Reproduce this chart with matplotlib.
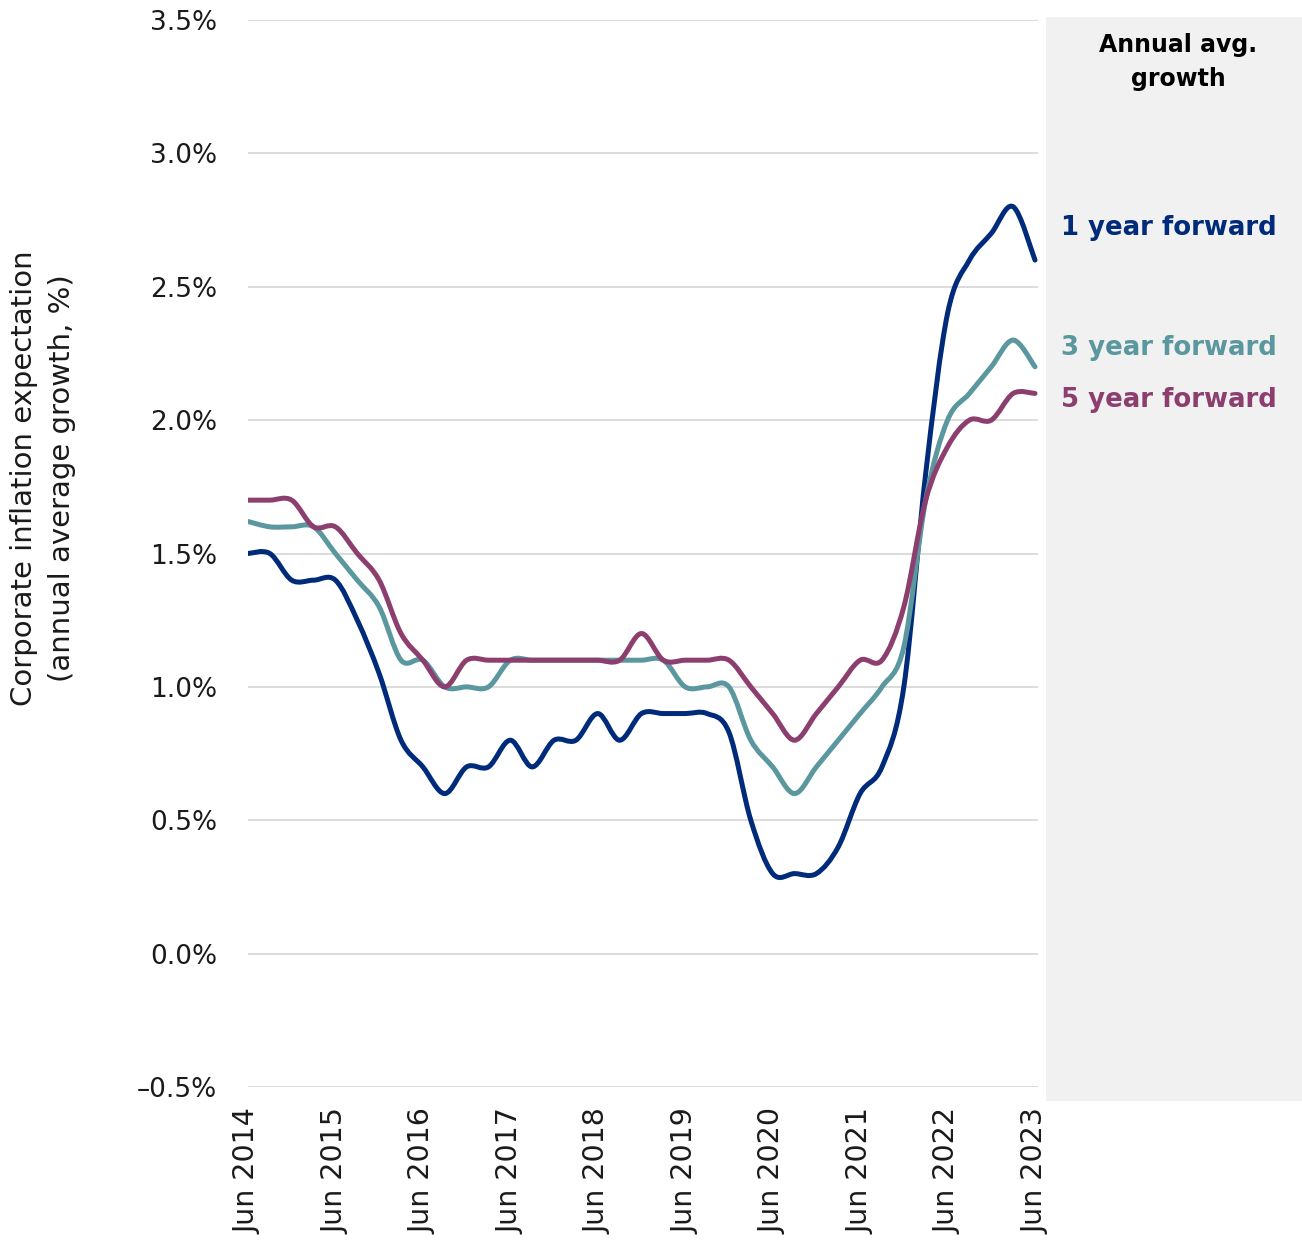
import numpy as np
import matplotlib
matplotlib.use("Agg")
from matplotlib import pyplot as plt
from matplotlib.path import Path
from matplotlib.patches import PathPatch, Rectangle

# quarterly, Jun 2014 .. Jun 2023
one_year = [1.5, 1.5, 1.4, 1.4, 1.4, 1.25, 1.05, 0.8, 0.7, 0.6, 0.7, 0.7, 0.8,
            0.7, 0.8, 0.8, 0.9, 0.8, 0.9, 0.9, 0.9, 0.9, 0.83, 0.5, 0.3, 0.3,
            0.3, 0.4, 0.6, 0.7, 1.0, 1.8, 2.4, 2.6, 2.7, 2.8, 2.6]
three_year = [1.62, 1.6, 1.6, 1.6, 1.5, 1.4, 1.3, 1.1, 1.1, 1.0, 1.0, 1.0, 1.1,
              1.1, 1.1, 1.1, 1.1, 1.1, 1.1, 1.1, 1.0, 1.0, 1.0, 0.8, 0.7, 0.6,
              0.7, 0.8, 0.9, 1.0, 1.15, 1.7, 2.0, 2.1, 2.2, 2.3, 2.2]
five_year = [1.7, 1.7, 1.7, 1.6, 1.6, 1.5, 1.4, 1.2, 1.1, 1.0, 1.1, 1.1, 1.1,
             1.1, 1.1, 1.1, 1.1, 1.1, 1.2, 1.1, 1.1, 1.1, 1.1, 1.0, 0.9, 0.8,
             0.9, 1.0, 1.1, 1.1, 1.3, 1.7, 1.9, 2.0, 2.0, 2.1, 2.1]

tick_labels = ["Jun 2014", "Jun 2015", "Jun 2016", "Jun 2017", "Jun 2018",
               "Jun 2019", "Jun 2020", "Jun 2021", "Jun 2022", "Jun 2023"]
series_names = ["1 year forward", "3 year forward", "5 year forward"]
colors = ["#002a7a", "#5b979e", "#8c3f6f"]


def smooth_path(y):
    # catmull-rom style bezier through the points (like excel smoothed lines)
    y = np.asarray(y, float)
    x = np.arange(len(y), dtype=float)
    p = np.column_stack([x, y])
    pp = np.vstack([p[0], p, p[-1]])
    verts = [p[0]]
    codes = [Path.MOVETO]
    for i in range(len(p) - 1):
        c1 = pp[i + 1] + (pp[i + 2] - pp[i]) / 6
        c2 = pp[i + 2] - (pp[i + 3] - pp[i + 1]) / 6
        verts += [c1, c2, p[i + 1]]
        codes += [Path.CURVE4] * 3
    return Path(verts, codes)


W, H = 1302, 1251
fig = plt.figure(figsize=(W / 100, H / 100), dpi=100)
fig.patches.append(Rectangle((1046 / W, 1 - 1101 / H), 1 - 1046 / W, (1101 - 17) / H,
                             transform=fig.transFigure, facecolor="#f1f1f1",
                             edgecolor="none", zorder=0))

ax = fig.add_axes([248 / W, 1 - 1087 / H, (1038 - 248) / W, (1087 - 20) / H])
ax.set_facecolor("none")

for vals, col in zip([one_year, three_year, five_year], colors):
    ax.add_patch(PathPatch(smooth_path(vals), facecolor="none", edgecolor=col,
                           lw=3.6, capstyle="round", joinstyle="round", zorder=3))

ax.set_xlim(0, 36 * 790 / 787)
ax.set_ylim(-0.5, 3.5)
yt = np.arange(-0.5, 3.51, 0.5)
ax.set_yticks(yt)
ax.set_yticklabels(["\u20130.5%" if v < 0 else f"{v:.1f}%" for v in yt])
ax.set_xticks(np.arange(0, 37, 4))
ax.set_xticklabels(tick_labels, rotation=90)
ax.tick_params(axis="y", length=0, pad=22, labelsize=19, colors="#1a1a1a")
ax.tick_params(axis="x", length=0, pad=15, labelsize=20.5, colors="#1a1a1a")
ax.grid(axis="y", color="#d9d9d9", lw=1.3)
ax.set_axisbelow(True)
for s in ax.spines.values():
    s.set_visible(False)

fig.text(43 / W, 1 - 478 / H,
         "Corporate inflation expectation\n(annual average growth, %)",
         rotation=90, ha="center", va="center", fontsize=21,
         multialignment="center", linespacing=1.45, color="#1a1a1a")

fig.text(1178 / W, 1 - 62 / H, "Annual avg.\ngrowth", ha="center", va="center",
         fontsize=17, fontweight="bold", linespacing=1.5)
label_y = [228, 348, 400]
for name, col, yy in zip(series_names, colors, label_y):
    fig.text(1061 / W, 1 - yy / H, name, ha="left", va="center", fontsize=18.7,
             fontweight="bold", color=col)

fig.savefig("out.png", dpi=100)
